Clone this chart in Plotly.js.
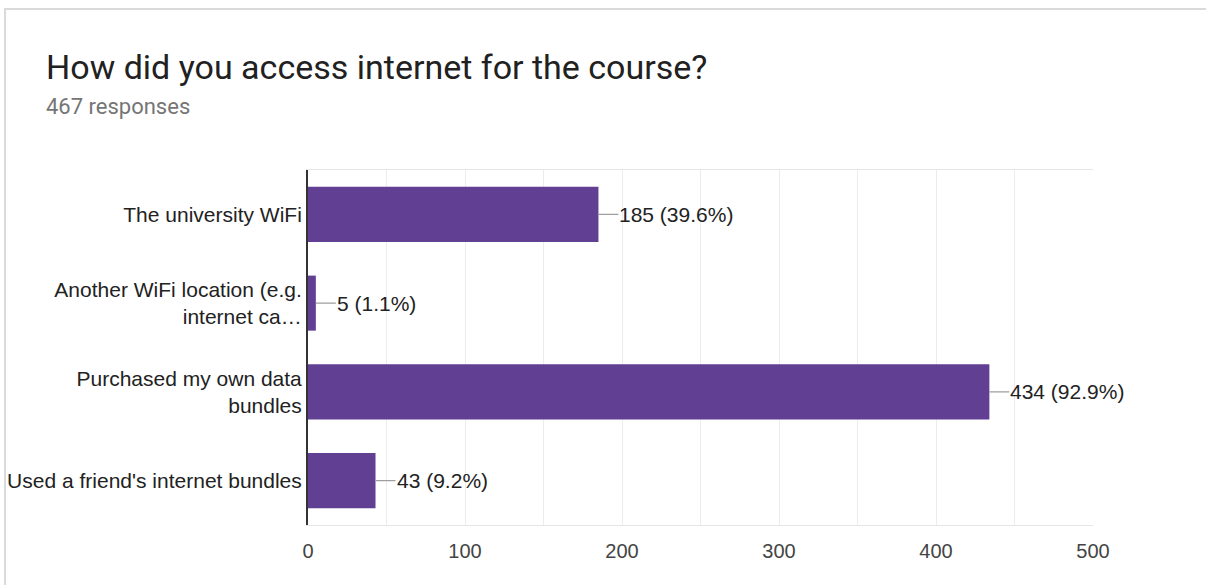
<!DOCTYPE html>
<html>
<head>
<meta charset="utf-8">
<script src="https://cdn.plot.ly/plotly-3.0.1.min.js"></script>
<style>
  html, body { margin: 0; padding: 0; background: #fff; }
  #frame { position: absolute; left: 4px; top: 8px; width: 1202px; height: 577px;
           border-top: 2px solid #dadada; border-left: 2px solid #dadada; box-sizing: border-box; }
  #chart { position: absolute; left: 0; top: 0; width: 1206px; height: 585px; }
</style>
</head>
<body>
<div id="frame"></div>
<div id="chart"></div>
<script>
const categories = [
  "The university WiFi",
  "Another WiFi location (e.g.<br>internet ca…",
  "Purchased my own data<br>bundles",
  "Used a friend's internet bundles"
];
const counts = [185, 5, 434, 43];
const percents = [39.6, 1.1, 92.9, 9.2];
const xTicks = [0, 100, 200, 300, 400, 500];
const titleText = "How did you access internet for the course?";
const subtitleText = "467 responses";

const W = 1206, H = 585;
const margin = {l: 308, r: 113, t: 170, b: 60};
const plotW = W - margin.l - margin.r;
const plotH = H - margin.t - margin.b;
const px2paperX = px => (px - margin.l) / plotW;
const px2paperY = py => (H - margin.b - py) / plotH;
const labelFont = 'Liberation Sans, Arial, sans-serif';

const trace = {
  type: 'bar',
  orientation: 'h',
  y: categories,
  x: counts,
  marker: {color: '#613f93', line: {width: 0}},
  hoverinfo: 'skip'
};

const annotations = counts.map((v, i) => ({
  x: v, y: categories[i], xref: 'x', yref: 'y',
  text: v + ' (' + percents[i].toFixed(1) + '%)',
  showarrow: true, arrowhead: 0, arrowwidth: 1.2, arrowcolor: '#9e9e9e',
  ax: 20, ay: 0, xanchor: 'left', yanchor: 'middle', borderpad: 0,
  standoff: 0, startstandoff: 0,
  font: {family: labelFont, size: 21, color: '#222'}
}));

annotations.push({
  xref: 'paper', yref: 'paper', x: px2paperX(44), y: px2paperY(67),
  xanchor: 'left', yanchor: 'middle', showarrow: false,
  text: titleText,
  font: {family: 'Roboto, sans-serif', size: 34, color: '#212121'}
});
annotations.push({
  xref: 'paper', yref: 'paper', x: px2paperX(44), y: px2paperY(106),
  xanchor: 'left', yanchor: 'middle', showarrow: false,
  text: subtitleText,
  font: {family: 'Roboto, sans-serif', size: 22, color: '#757575'}
});

const layout = {
  width: W, height: H,
  margin: margin,
  paper_bgcolor: 'rgba(0,0,0,0)',
  plot_bgcolor: '#fff',
  showlegend: false,
  bargap: 0.38,
  xaxis: {
    range: [0, 500],
    tickvals: xTicks,
    ticktext: xTicks.map(String),
    showgrid: true, gridcolor: '#ececec', gridwidth: 1,
    minor: {dtick: 50, tick0: 0, showgrid: true, gridcolor: '#ececec', gridwidth: 1, ticks: ''},
    zeroline: false,
    showline: true, linecolor: '#e6e6e6', linewidth: 1, mirror: true,
    ticks: '', ticklabelstandoff: 8,
    tickfont: {family: labelFont, size: 20, color: '#444'},
    fixedrange: true
  },
  yaxis: {
    type: 'category',
    autorange: 'reversed',
    showgrid: false, zeroline: false,
    showline: true, linecolor: '#333', linewidth: 2,
    ticks: '', ticklabelstandoff: 0,
    tickfont: {family: labelFont, size: 21, color: '#222'},
    fixedrange: true
  },
  annotations: annotations
};

Plotly.newPlot('chart', [trace], layout, {displayModeBar: false, staticPlot: true});
</script>
</body>
</html>
